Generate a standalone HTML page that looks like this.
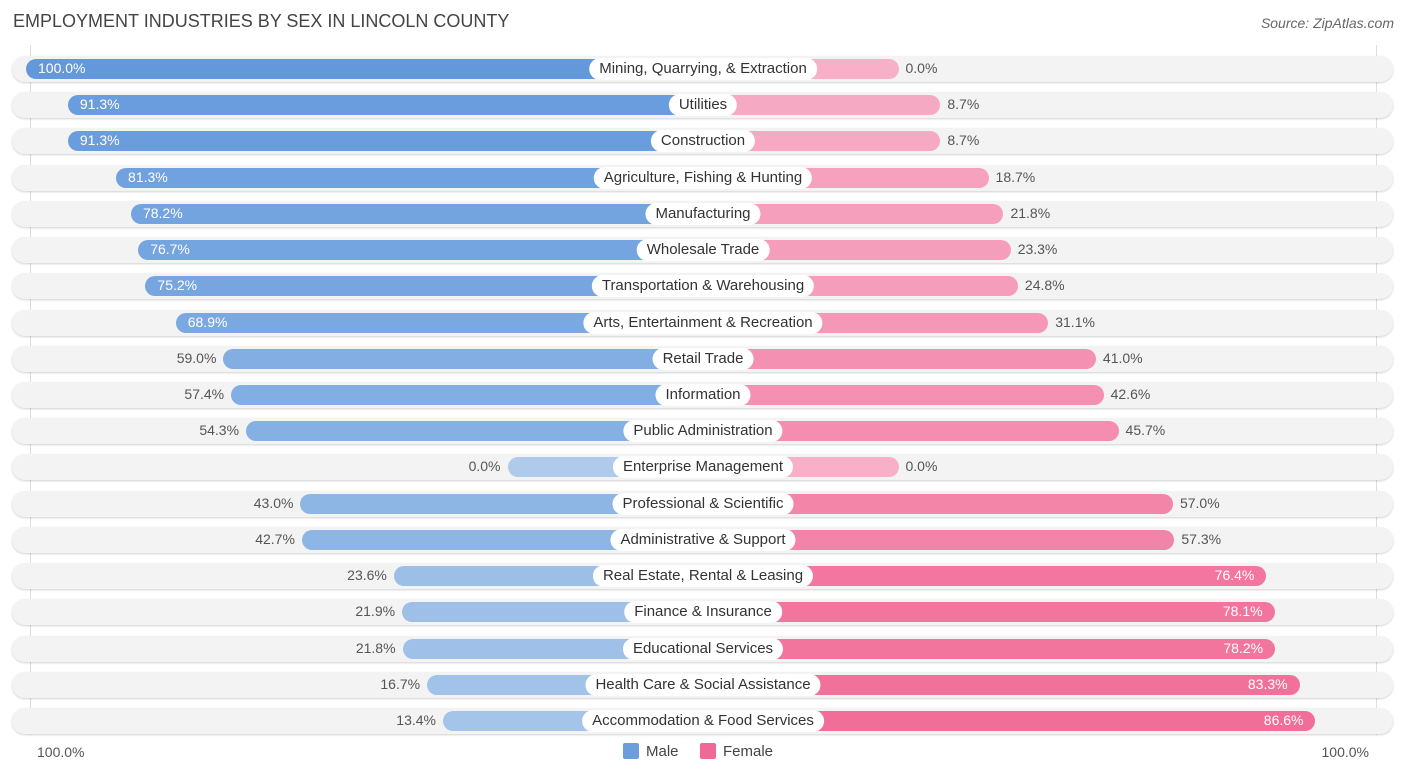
<!DOCTYPE html>
<html><head><meta charset="utf-8"><style>
body{margin:0;background:#fff;font-family:"Liberation Sans",sans-serif;}
#wrap{position:relative;width:1406px;height:776px;overflow:hidden;}
.t{position:absolute;white-space:nowrap;}
</style></head><body>
<div id="wrap">
<div class="t" style="left:13px;top:11px;font-size:18px;color:#444;">EMPLOYMENT INDUSTRIES BY SEX IN LINCOLN COUNTY</div>
<div class="t" style="right:12px;top:15px;font-size:14px;color:#666;font-style:italic;">Source: ZipAtlas.com</div>
<div style="position:absolute;left:30px;top:45px;width:1px;height:690px;background:#ddd"></div>
<div style="position:absolute;left:1376px;top:45px;width:1px;height:690px;background:#ddd"></div>
<div id="rows"></div>
<div class="t" style="left:37px;top:744px;font-size:14px;color:#555;">100.0%</div>
<div class="t" style="right:37px;top:744px;font-size:14px;color:#555;">100.0%</div>
<div class="t" style="left:623px;top:743px;font-size:15px;color:#444;"><span style="display:inline-block;width:16px;height:16px;background:#6a9fdc;border-radius:2px;vertical-align:-3px;margin-right:7px"></span>Male</div>
<div class="t" style="left:700px;top:743px;font-size:15px;color:#444;"><span style="display:inline-block;width:16px;height:16px;background:#f06896;border-radius:2px;vertical-align:-3px;margin-right:7px"></span>Female</div>
</div>
<script>
const categories=["Mining, Quarrying, & Extraction","Utilities","Construction","Agriculture, Fishing & Hunting","Manufacturing","Wholesale Trade","Transportation & Warehousing","Arts, Entertainment & Recreation","Retail Trade","Information","Public Administration","Enterprise Management","Professional & Scientific","Administrative & Support","Real Estate, Rental & Leasing","Finance & Insurance","Educational Services","Health Care & Social Assistance","Accommodation & Food Services"];
const maleValues=[100.0,91.3,91.3,81.3,78.2,76.7,75.2,68.9,59.0,57.4,54.3,0.0,43.0,42.7,23.6,21.9,21.8,16.7,13.4];
const femaleValues=[0.0,8.7,8.7,18.7,21.8,23.3,24.8,31.1,41.0,42.6,45.7,0.0,57.0,57.3,76.4,78.1,78.2,83.3,86.6];
const CX=703,BASE=195.5,K=4.815,Y0=69,DY=36.22;
function w(v){return BASE+v*K;}
function mix(a,b,t){return 'rgb('+a.map((x,i)=>Math.round(x+(b[i]-x)*t)).join(',')+')';}
const rows=document.getElementById('rows');
categories.forEach((c,i)=>{
  const y=Y0+i*DY;
  const bg=document.createElement('div');
  
  
  bg.style.cssText=`position:absolute;left:12px;width:1381px;top:${y-13}px;height:26px;border-radius:13px;background:#f3f3f3;box-shadow:0 1px 2px rgba(0,0,0,0.18);`;
  rows.appendChild(bg);
  const m=maleValues[i],f=femaleValues[i];
  const mw=w(m),fw=w(f);
  const mb=document.createElement('div');
  
  
  mb.style.cssText=`position:absolute;left:${CX-mw}px;width:${mw}px;top:${y-10}px;height:20px;border-radius:10px 0 0 10px;background:${mix([174,203,236],[99,153,220],m/100)};`;
  rows.appendChild(mb);
  const fb=document.createElement('div');
  
  
  fb.style.cssText=`position:absolute;left:${CX}px;width:${fw}px;top:${y-10}px;height:20px;border-radius:0 10px 10px 0;background:${mix([247,176,200],[240,100,146],f/100)};`;
  rows.appendChild(fb);
  const lab=document.createElement('div');
  
  
  lab.className='t';
  lab.textContent=c;
  lab.style.cssText=`left:${CX}px;top:${y-11}px;transform:translateX(-50%);background:#fff;border-radius:11px;padding:2px 10px;font-size:15px;line-height:18px;color:#333;`;
  rows.appendChild(lab);
  const ml=document.createElement('div');
  
  
  ml.className='t';
  ml.textContent=m.toFixed(1)+'%';
  if(m>60) ml.style.cssText=`left:${CX-mw+12}px;top:${y-9}px;font-size:14px;color:#fff;`;
  else ml.style.cssText=`right:${1406-(CX-mw)+7}px;top:${y-9}px;font-size:14px;color:#555;`;
  rows.appendChild(ml);
  const fl=document.createElement('div');
  
  
  fl.className='t';
  fl.textContent=f.toFixed(1)+'%';
  if(f>60) fl.style.cssText=`right:${1406-(CX+fw)+12}px;top:${y-9}px;font-size:14px;color:#fff;`;
  else fl.style.cssText=`left:${CX+fw+7}px;top:${y-9}px;font-size:14px;color:#555;`;
  rows.appendChild(fl);
});
</script>
</body></html>
